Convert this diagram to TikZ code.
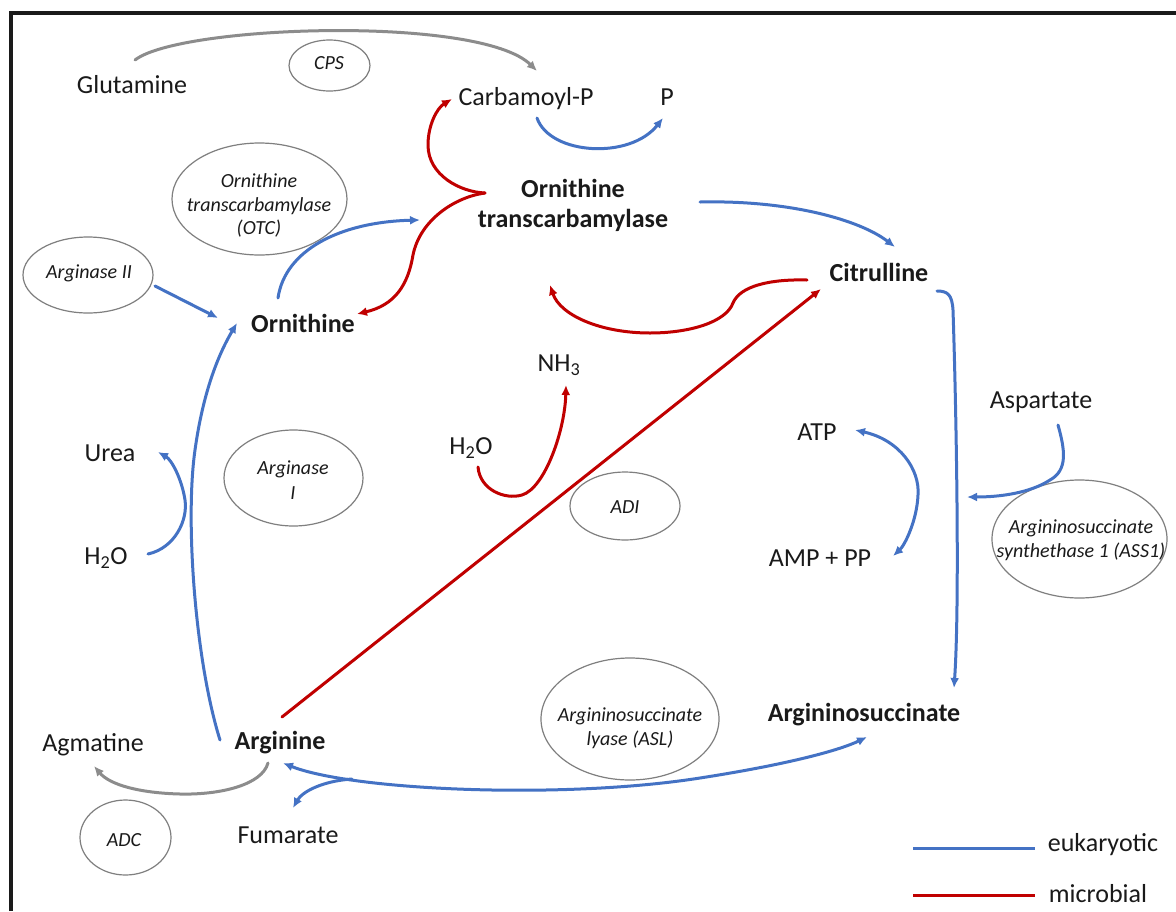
\documentclass[tikz,border=0pt]{standalone}
\usepackage{fontspec}
\setmainfont{Carlito}
\usetikzlibrary{arrows.meta}
\definecolor{eblue}{HTML}{4472C4}
\definecolor{mred}{HTML}{C00000}
\definecolor{cgray}{HTML}{8C8C8C}
\definecolor{egray}{HTML}{7F7F7F}
\definecolor{txt}{HTML}{1A1A1A}
\tikzset{
  lbl/.style={inner sep=0pt, text height=17pt, text depth=0pt, text=txt, font=\fontsize{26}{30}\selectfont},
  blbl/.style={lbl, font=\fontsize{26}{30}\selectfont\bfseries},
  blml/.style={inner sep=0pt, align=center, text=txt, font=\fontsize{26}{30}\selectfont\bfseries},
  enz/.style={inner sep=0pt, align=center, text=txt, font=\fontsize{20}{24.5}\selectfont\itshape},
  enzone/.style={enz, text height=13pt, text depth=0pt},
  ell/.style={draw=egray, line width=1.2pt},
  eu/.style={draw=eblue, line width=3pt},
  mi/.style={draw=mred, line width=3pt},
  gr/.style={draw=cgray, line width=3pt},
  arr/.style={-{Latex[length=10pt,width=9pt]}},
  darr/.style={{Latex[length=10pt,width=9pt]}-{Latex[length=10pt,width=9pt]}}
}
\begin{document}
\begin{tikzpicture}[x=1pt, y=-1pt, line cap=round]
\useasboundingbox (0,0) rectangle (1176,911);
\fill[white] (0,0) rectangle (1176,911);
% frame
\draw[line width=4pt, draw=txt, line cap=butt, line join=miter] (10.5,911) -- (10.5,12.5) -- (1176,12.5);

% enzyme ellipses
\draw[ell] (329.5,65.5) ellipse [x radius=40.5pt, y radius=25.5pt];
\draw[ell] (259.5,199) ellipse [x radius=87.5pt, y radius=56pt];
\draw[ell] (88,275) ellipse [x radius=65pt, y radius=38pt];
\draw[ell] (293.5,478) ellipse [x radius=69.5pt, y radius=48pt];
\draw[ell] (625,506) ellipse [x radius=55pt, y radius=34pt];
\draw[ell] (630,719) ellipse [x radius=89pt, y radius=61pt];
\draw[ell] (1079.5,539) ellipse [x radius=87.5pt, y radius=59pt];
\draw[ell] (125.5,837.5) ellipse [x radius=45.5pt, y radius=37.5pt];

% enzyme texts
\node[enzone] (cps) at (329,63) {CPS};
\node[enz, font=\fontsize{20}{23.5}\selectfont\itshape] (otc) at (259,205.5) {Ornithine\\transcarbamylase\\(OTC)};
\node[enzone] (ase2) at (89,272) {Arginase II};
\node[enz] (ase1) at (293,480) {Arginase\\I};
\node[enzone] (adi) at (625,507) {ADI};
\node[enz] (asl) at (630,728) {Argininosuccinate\\lyase (ASL)};
\node[enz] (ass) at (1081,540) {Argininosuccinate\\synthethase 1 (ASS1)};
\node[enzone] (adc) at (124,840) {ADC};

% metabolites
\node[lbl] (glut) at (132,85) {Glutamine};
\node[lbl] (carb) at (526,97) {Carbamoyl-P};
\node[lbl] (p) at (667,97) {P};
\node[blml] (ot) at (573,205) {Ornithine\\transcarbamylase};
\node[blbl] (orn) at (303,324) {Ornithine};
\node[blbl] (cit) at (879,273) {Citrulline};
\node[lbl] (urea) at (110,453) {Urea};
\node[lbl] (h2oa) at (106,556) {H\textsubscript{2}O};
\node[lbl] (nh3) at (559,363) {NH\textsubscript{3}};
\node[lbl] (h2ob) at (471,446) {H\textsubscript{2}O};
\node[lbl] (atp) at (817,432) {ATP};
\node[lbl] (amp) at (820,558) {AMP + PP};
\node[lbl] (asp) at (1041,400) {Aspartate};
\node[blbl] (asuc) at (864,713) {Argininosuccinate};
\node[blbl] (arg) at (280,741) {Arginine};
\node[lbl] (agm) at (93,743) {Agmatine};
\node[lbl] (fum) at (288,835) {Fumarate};
\node[lbl] (euk) at (1103,843) {eukaryotic};
\node[lbl] (mic) at (1098,894) {microbial};

% connector end points
\coordinate (gl1) at (135,60); \coordinate (gl2) at (537,71);
\coordinate (cp1) at (537,118); \coordinate (cp2) at (663,118);
\coordinate (cusp) at (485,193); \coordinate (cpin) at (452,99); \coordinate (ornin) at (357,314);
\coordinate (orno) at (278,298); \coordinate (otin) at (420,220);
\coordinate (oto) at (700,202); \coordinate (citin) at (895,247);
\coordinate (cito) at (807,280); \coordinate (otret) at (550,285);
\coordinate (argr) at (282,717); \coordinate (citr) at (821,289);
\coordinate (citb) at (937,291); \coordinate (asucin) at (954,688);
\coordinate (aspo) at (1058,425); \coordinate (aspin) at (967,497);
\coordinate (atpin) at (855,430); \coordinate (ampin) at (893,556);
\coordinate (h2obo) at (478,467); \coordinate (nh3in) at (566,385);
\coordinate (a2o) at (155,286); \coordinate (a2in) at (218,318);
\coordinate (argup) at (220,740); \coordinate (ornup) at (237,323);
\coordinate (h2oao) at (148,554); \coordinate (ureain) at (158,452);
\coordinate (argin) at (283,763); \coordinate (asucout) at (867,737);
\coordinate (fork) at (352,779); \coordinate (fumin) at (293,808);
\coordinate (argdn) at (268,763); \coordinate (agmin) at (94,766);
\coordinate (lb1) at (913,848); \coordinate (lb2) at (1035,848);
\coordinate (lr1) at (913,895); \coordinate (lr2) at (1035,895);

% gray
\draw[gr, arr] (gl1) .. controls (180,25) and (480,15) .. (gl2);
\draw[gr, arr] (argdn) .. controls (262,785) and (220,795) .. (180,794) .. controls (140,793) and (110,785) .. (agmin);

% blue
\draw[eu, arr] (cp1) .. controls (550,155) and (630,160) .. (cp2);
\draw[eu, arr] (orno) .. controls (285,250) and (340,222) .. (otin);
\draw[eu, arr] (oto) .. controls (790,200) and (860,220) .. (citin);
\draw[eu, arr] (citb) .. controls (948,291) and (952,295) .. (953,310) .. controls (956,400) and (960,600) .. (asucin);
\draw[eu, arr] (aspo) .. controls (1065,450) and (1068,470) .. (1050,480) .. controls (1030,493) and (1000,497) .. (aspin);
\draw[eu, darr] (atpin) .. controls (900,440) and (920,470) .. (918,495) .. controls (917,520) and (905,545) .. (ampin);
\draw[eu, arr] (a2o) -- (a2in);
\draw[eu, arr] (argup) .. controls (195,660) and (185,520) .. (195,450) .. controls (202,400) and (215,360) .. (ornup);
\draw[eu, arr] (h2oao) .. controls (175,548) and (188,520) .. (185,500) .. controls (182,480) and (172,460) .. (ureain);
\draw[eu, darr] (argin) .. controls (350,790) and (560,800) .. (700,778) .. controls (790,764) and (840,750) .. (asucout);
\draw[eu, arr] (fork) .. controls (322,781) and (302,792) .. (fumin);

% red
\draw[mi, arr] (cusp) .. controls (460,192) and (428,175) .. (428,145) .. controls (428,125) and (437,108) .. (cpin);
\draw[mi, arr] (cusp) .. controls (455,197) and (420,220) .. (413,255) .. controls (408,285) and (395,305) .. (ornin);
\draw[mi, arr] (cito) .. controls (770,279) and (740,286) .. (733,303) .. controls (726,322) and (690,333) .. (650,333) .. controls (600,333) and (560,315) .. (otret);
\draw[mi, arr] (argr) -- (citr);
\draw[mi, arr] (h2obo) .. controls (480,490) and (505,500) .. (522,495) .. controls (545,488) and (565,430) .. (nh3in);

% legend
\draw[eu, line cap=butt] (lb1) -- (lb2);
\draw[mi, line cap=butt] (lr1) -- (lr2);
\end{tikzpicture}
\end{document}
